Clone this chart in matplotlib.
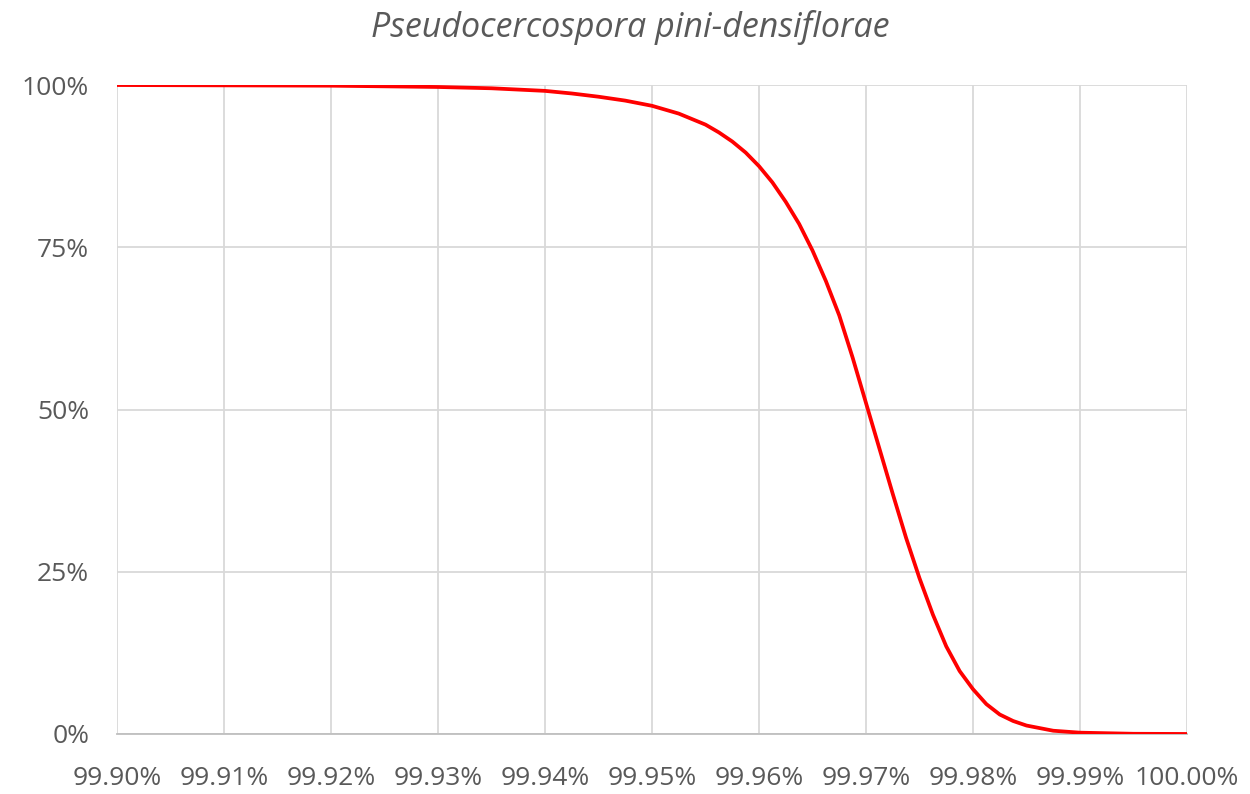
import matplotlib.pyplot as plt
from matplotlib.ticker import FuncFormatter

# identity (%) vs fraction remaining
identity = [99.900, 99.910, 99.920, 99.930, 99.935, 99.9400, 99.9425, 99.9450,
            99.9475, 99.9500, 99.9525, 99.9550, 99.95625, 99.9575, 99.95875,
            99.9600, 99.96125, 99.9625, 99.96375, 99.9650, 99.96625, 99.9675,
            99.96875, 99.9700, 99.97125, 99.9725, 99.97375, 99.9750, 99.97625,
            99.9775, 99.97875, 99.9800, 99.98125, 99.9825, 99.98375, 99.9850,
            99.9875, 99.9900, 99.9950, 100.000]
fraction = [1.000, 0.9995, 0.999, 0.997, 0.995, 0.991, 0.987, 0.982,
            0.976, 0.968, 0.956, 0.939, 0.927, 0.913, 0.896,
            0.875, 0.850, 0.820, 0.786, 0.745, 0.698, 0.645,
            0.580, 0.510, 0.440, 0.370, 0.302, 0.240, 0.184,
            0.135, 0.097, 0.069, 0.046, 0.030, 0.020, 0.013,
            0.005, 0.002, 0.0003, 0.0]

x_ticks = [99.90, 99.91, 99.92, 99.93, 99.94, 99.95, 99.96, 99.97, 99.98, 99.99, 100.00]
y_ticks = [0, 0.25, 0.5, 0.75, 1.0]

plt.rcParams['font.family'] = ['Open Sans', 'DejaVu Sans']

fig = plt.figure(figsize=(12.5, 7.94), dpi=100)
ax = fig.add_axes([0.0936, 0.0756, 0.856, 0.8173])

ax.plot(identity, fraction, color='#ff0000', lw=2.7, solid_capstyle='round',
        solid_joinstyle='round', zorder=3)

ax.set_xlim(99.90, 100.00)
ax.set_ylim(0, 1)
ax.set_xticks(x_ticks)
ax.set_yticks(y_ticks)
ax.xaxis.set_major_formatter(FuncFormatter(lambda v, p: f"{v:.2f}%"))
ax.yaxis.set_major_formatter(FuncFormatter(lambda v, p: f"{v*100:.0f}%"))

ax.grid(True, color='#d9d9d9', lw=1.3)
ax.set_axisbelow(True)
for s in ['top', 'right', 'left']:
    ax.spines[s].set_visible(False)
ax.spines['bottom'].set_color('#bfbfbf')
ax.spines['bottom'].set_linewidth(1.3)

ax.tick_params(axis='both', length=0, labelsize=19, labelcolor='#595959')
ax.tick_params(axis='y', pad=20)
ax.tick_params(axis='x', pad=23)

fig.text(0.504, 0.965, 'Pseudocercospora pini-densiflorae', fontsize=24.5,
         style='italic', color='#595959', ha='center', va='center')

plt.savefig('out.png', dpi=100)
